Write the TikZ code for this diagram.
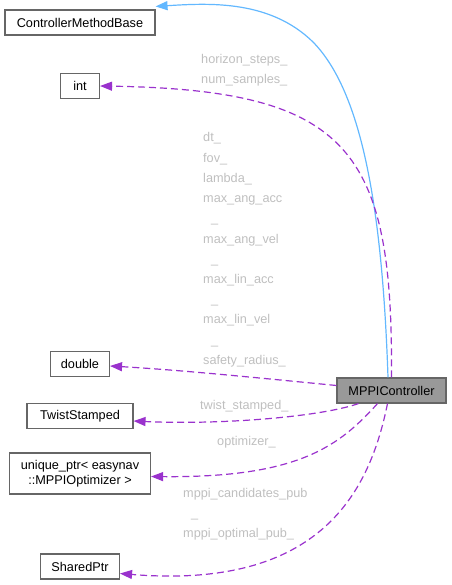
\documentclass[tikz,border=0pt]{standalone}
\usepackage{fontspec}
\setmainfont{Liberation Sans}
\usetikzlibrary{arrows.meta}
\definecolor{edgep}{HTML}{9A32CD}
\definecolor{edgeb}{HTML}{63B8FF}
\definecolor{lblg}{HTML}{BFBFBF}
\definecolor{brd}{HTML}{666666}
\definecolor{selfill}{HTML}{999999}
\begin{document}
\begin{tikzpicture}[x=1pt,y=-1pt,
  font=\fontsize{12.7}{15}\selectfont,
  box/.style={draw=brd, line width=1.1pt, fill=white, inner xsep=0pt, inner ysep=2pt, minimum height=25pt, text=black, align=center},
  lbl/.style={text=lblg, anchor=base west, inner sep=0pt},
  dep/.style={draw=edgep, line width=1.2pt, dash pattern=on 7pt off 4pt, -{Triangle[length=12pt,width=9pt,fill=edgep]}},
  inh/.style={draw=edgeb, line width=1.2pt, -{Triangle[length=12pt,width=9pt,fill=edgeb]}}]
\useasboundingbox (0,0) rectangle (451,585);

% nodes
\node[box, minimum width=150pt] (cmb) at (80,22.5) {ControllerMethodBase};
\node[box, minimum width=39pt] (int) at (80,86) {int};
\node[box, minimum width=59pt] (dbl) at (80,364) {double};
\node[box, minimum width=106pt] (tw) at (80,416) {TwistStamped};
\node[box, minimum width=141pt, minimum height=41pt] (uq) at (80,473.5) {unique\_ptr< easynav\\::MPPIOptimizer >};
\node[box, minimum width=79pt] (sp) at (80,566.5) {SharedPtr};
\node[box, minimum width=109pt, fill=selfill] (mppi) at (391.5,390.5) {MPPIController};

% edges
\draw[inh] ([xshift=-3.5pt]mppi.north) .. controls (382,200) and (360,90) .. (313,42)
   .. controls (270,0) and (210,3) .. ([yshift=3pt]cmb.north east);
\draw[dep] (mppi.north) .. controls (393,150) and (350,90) .. (int.east);
\draw[dep] ([yshift=5pt]mppi.west) .. controls (260,378) and (180,370) .. ([yshift=-2pt]dbl.east);
\draw[dep] ([xshift=-33pt]mppi.south) .. controls (320,417) and (220,425) .. ([yshift=-5pt]tw.east);
\draw[dep] ([xshift=-14pt]mppi.south) .. controls (340,445) and (300,478) .. ([yshift=-3pt]uq.east);
\draw[dep] ([xshift=-4pt]mppi.south) .. controls (370,490) and (322,590) .. ([yshift=-7pt]sp.east);

% labels
\node[lbl] (lhs) at (201,64) {horizon\_steps\_};
\node[lbl] (lns) at (201,84) {num\_samples\_};

\node[lbl] (ld1) at (203,142) {dt\_};
\node[lbl] (ld2) at (203,162.2) {fov\_};
\node[lbl] (ld3) at (203,182.4) {lambda\_};
\node[lbl] (ld4) at (203,202.6) {max\_ang\_acc};
\node[lbl] (ld5) at (211,222.8) {\_};
\node[lbl] (ld6) at (203,243) {max\_ang\_vel};
\node[lbl] (ld7) at (211,263.2) {\_};
\node[lbl] (ld8) at (203,283.4) {max\_lin\_acc};
\node[lbl] (ld9) at (211,303.6) {\_};
\node[lbl] (ld10) at (203,323.8) {max\_lin\_vel};
\node[lbl] (ld11) at (211,344) {\_};
\node[lbl] (ld12) at (203,364.2) {safety\_radius\_};

\node[lbl] (ltw) at (200,409) {twist\_stamped\_};
\node[lbl] (lop) at (217,445) {optimizer\_};
\node[lbl] (lm1) at (183,497) {mppi\_candidates\_pub};
\node[lbl] (lm2) at (191,517) {\_};
\node[lbl] (lm3) at (183,537) {mppi\_optimal\_pub\_};
\end{tikzpicture}
\end{document}
